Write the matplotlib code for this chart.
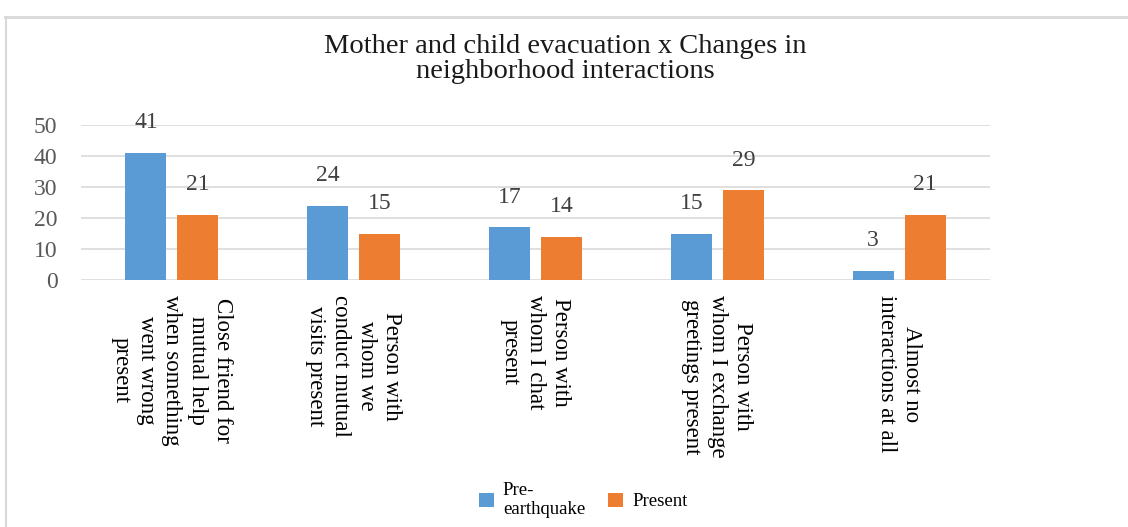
import matplotlib
matplotlib.use("Agg")
import matplotlib.pyplot as plt
from matplotlib.lines import Line2D
import numpy as np

categories = [
    "Close friend for\nmutual help\nwhen something\nwent wrong\npresent",
    "Person with\nwhom we\nconduct mutual\nvisits present",
    "Person with\nwhom I chat\npresent",
    "Person with\nwhom I exchange\ngreetings present",
    "Almost no\ninteractions at all",
]
pre_earthquake = [41, 24, 17, 15, 3]
present = [21, 15, 14, 29, 21]
series_names = ["Pre-\nearthquake", "Present"]
y_ticks = [0, 10, 20, 30, 40, 50]

BLUE = "#5B9BD5"
ORANGE = "#ED7D31"
SERIF = ["Liberation Serif", "DejaVu Serif"]

fig = plt.figure(figsize=(11.28, 5.27), dpi=100)
ax = fig.add_axes([81/1128, 1-280/527, (990-81)/1128, (280-125)/527])

x = np.arange(len(categories))
w = 0.225
off = 0.143
b1 = ax.bar(x - off, pre_earthquake, w, color=BLUE, label=series_names[0], zorder=3)
b2 = ax.bar(x + off, present, w, color=ORANGE, label=series_names[1], zorder=3)

for bars in (b1, b2):
    for r in bars:
        ax.annotate(f"{int(r.get_height())}", (r.get_x() + r.get_width()/2, r.get_height()),
                    xytext=(0, 14), textcoords="offset points", ha="center", va="bottom",
                    fontsize=17, family=SERIF, color="#404040")

ax.set_xlim(-0.5, len(categories) - 0.5)
ax.set_ylim(0, 50)
ax.set_yticks(y_ticks)
ax.set_yticklabels([str(t) for t in y_ticks], family=SERIF, fontsize=17, color="#595959")
ax.set_xticks(x)
ax.set_xticklabels(categories, rotation=-90, ha="center", va="top", multialignment="center",
                   family=SERIF, fontsize=16.5, linespacing=1.28, color="#000000")
ax.tick_params(axis="both", length=0)
ax.tick_params(axis="y", pad=17)
ax.tick_params(axis="x", pad=11)
ax.grid(axis="y", color="#d9d9d9", linewidth=1.2, zorder=0)
ax.set_axisbelow(True)
for s in ax.spines.values():
    s.set_visible(False)

fig.text(565/1128, 1-59/527, "Mother and child evacuation x Changes in\nneighborhood interactions",
         ha="center", va="center", family=SERIF, fontsize=20.5, linespacing=0.95, color="#1a1a1a")

fig.legend(handles=[b1, b2], labels=series_names, loc="center",
           bbox_to_anchor=(583/1128, 1-500/527), ncol=2, frameon=False,
           prop={"family": SERIF, "size": 13.5}, handlelength=0.8, handleheight=0.8,
           columnspacing=1.2, handletextpad=0.5)

fig.add_artist(Line2D([5/1128, 1], [1-17/527, 1-17/527], color="#d9d9d9", lw=2, transform=fig.transFigure))
fig.add_artist(Line2D([6/1128, 6/1128], [0, 1-17/527], color="#d9d9d9", lw=1.5, transform=fig.transFigure))

fig.savefig("out.png", dpi=100)
